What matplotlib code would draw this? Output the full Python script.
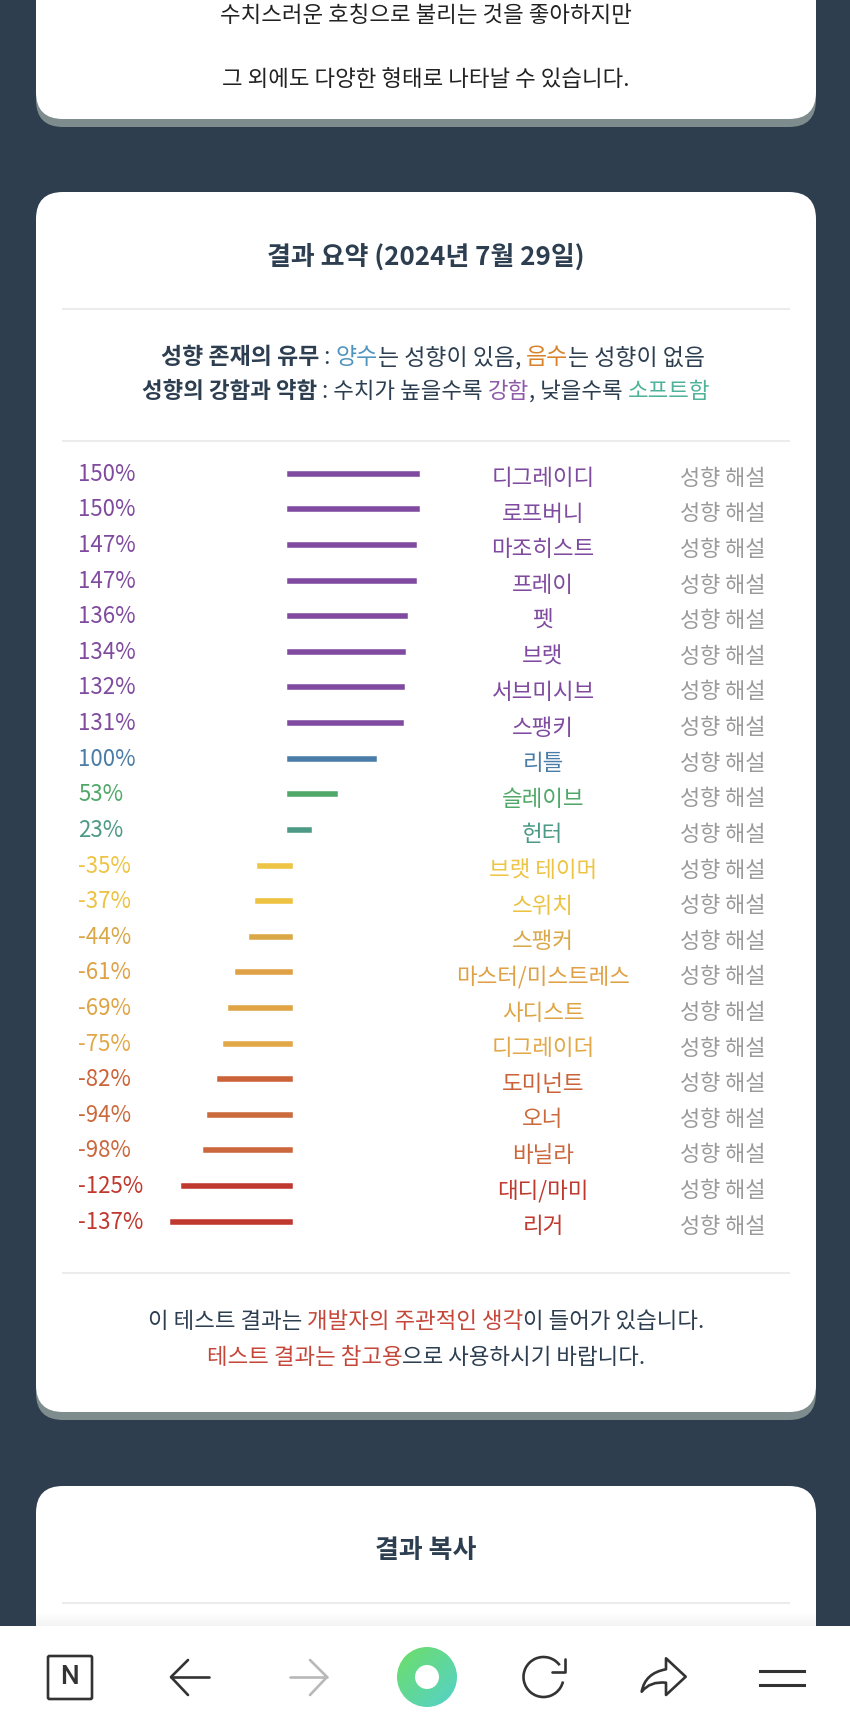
import numpy as np
import matplotlib
matplotlib.use('Agg')
import matplotlib.pyplot as plt
from matplotlib.patches import FancyBboxPatch, Rectangle, PathPatch, Arc, Circle
from matplotlib.path import Path

plt.rcParams['font.family'] = ['Noto Sans CJK KR', 'DejaVu Sans']

names = ['디그레이디', '로프버니', '마조히스트', '프레이', '펫', '브랫', '서브미시브', '스팽키',
         '리틀', '슬레이브', '헌터', '브랫 테이머', '스위치', '스팽커', '마스터/미스트레스',
         '사디스트', '디그레이더', '도미넌트', '오너', '바닐라', '대디/마미', '리거']
values = [150, 150, 147, 147, 136, 134, 132, 131, 100, 53, 23,
          -35, -37, -44, -61, -69, -75, -82, -94, -98, -125, -137]
colors = ['#7f4a9f'] * 8 + ['#4a7ca8', '#50a868', '#4c9a85',
          '#eec445', '#ecc240', '#dba848', '#e0a045', '#dfa545', '#e2a848',
          '#cc6238', '#cb6a3c', '#cb673c', '#c0392f', '#c0392f']
link_label = '성향 해설'

NAVY = '#2f3e4f'
W, H = 850, 1730
fig = plt.figure(figsize=(W / 100, H / 100), dpi=100, facecolor=NAVY)
page = fig.add_axes([0, 0, 1, 1], zorder=1)
page.set_xlim(0, W); page.set_ylim(H, 0); page.axis('off')
page.patch.set_alpha(0)


def card(top, bottom, shadow=True):
    if shadow:
        page.add_patch(FancyBboxPatch((36, top + 8), 780, bottom - top, boxstyle='round,pad=0,rounding_size=27',
                                      fc='#7f8c8d', ec='none', zorder=1))
    page.add_patch(FancyBboxPatch((36, top), 780, bottom - top, boxstyle='round,pad=0,rounding_size=27',
                                  fc='white', ec='none', zorder=2))


card(-80, 119)
card(192, 1412)
card(1486, 1800, shadow=False)

for y in (309, 441, 1273, 1603):
    page.plot([62, 790], [y, y], color='#ececec', lw=1.5, zorder=3, solid_capstyle='butt')

rend = fig.canvas.get_renderer()


def rich(cx, y, parts, size):
    """parts: (string, colour, weight); laid out in sequence, centred on cx"""
    items, widths = [], []
    for s, c, w in parts:
        t = page.text(0, y, s, color=c, fontweight=w, fontsize=size, va='center', ha='left', zorder=5)
        items.append(t)
        widths.append(t.get_window_extent(rend).width)
    x = cx - sum(widths) / 2
    for t, wd in zip(items, widths):
        t.set_x(x)
        x += wd


DARK = '#2c3e50'
RED = '#c5473a'
rich(426, 16, [('수치스러운 호칭으로 불리는 것을 좋아하지만', '#222222', 'normal')], 16.1)
rich(426, 80, [('그 외에도 다양한 형태로 나타날 수 있습니다.', '#222222', 'normal')], 16.1)
rich(426, 257, [('결과 요약 (2024년 7월 29일)', DARK, 'bold')], 18.7)
rich(433, 358, [('성향 존재의 유무', DARK, 'bold'), (' : ', DARK, 'normal'), ('양수', '#4f93bf', 'normal'),
                ('는 성향이 있음, ', DARK, 'normal'), ('음수', '#d9822b', 'normal'), ('는 성향이 없음', DARK, 'normal')], 16.5)
rich(426, 391, [('성향의 강함과 약함', DARK, 'bold'), (' : 수치가 높을수록 ', DARK, 'normal'), ('강함', '#8e5aa8', 'normal'),
                (', 낮을수록 ', DARK, 'normal'), ('소프트함', '#4fb39c', 'normal')], 16.1)
rich(426, 1322, [('이 테스트 결과는 ', DARK, 'normal'), ('개발자의 주관적인 생각', RED, 'normal'),
                 ('이 들어가 있습니다.', DARK, 'normal')], 16.1)
rich(426, 1357, [('테스트 결과는 참고용', RED, 'normal'), ('으로 사용하시기 바랍니다.', DARK, 'normal')], 16.1)
rich(426, 1550, [('결과 복사', DARK, 'bold')], 18.7)

# chart: x in percent, y in row index
row0, drow = 473.7, 35.62
zero_px, px_per = 289.6, 0.848
n = len(values)
top_px = row0 - drow / 2
bot_px = row0 + drow * (n - 0.5)
xmin, xmax = -200, 200
left_px = zero_px + xmin * px_per
right_px = zero_px + xmax * px_per
ax = fig.add_axes([left_px / W, 1 - bot_px / H, (right_px - left_px) / W, (bot_px - top_px) / H], zorder=2)
ax.set_xlim(xmin, xmax); ax.set_ylim(n - 0.5, -0.5); ax.axis('off'); ax.patch.set_alpha(0)
rows = np.arange(n)
ax.hlines(rows, 0, values, colors=colors, linewidth=4.0, capstyle='projecting')

for i, (nm, v, c) in enumerate(zip(names, values, colors)):
    y = row0 + i * drow
    page.text(78, y + 0.5, f'{v}%', color=c, fontsize=16, va='center', ha='left', zorder=5)
    page.text(543, y + 5, nm, color=c, fontsize=16.2, va='center', ha='center', zorder=5)
    page.text(722.5, y + 5, link_label, color='#9a9a9a', fontsize=15.8, va='center', ha='center', zorder=5)

# browser toolbar
shade = np.linspace(1.0, 0.955, 12)[:, None, None] * np.array([[[1.0, 1.0, 1.0]]])
page.imshow(shade, extent=(36, 816, 1626, 1612), aspect='auto', zorder=4)
page.add_patch(Rectangle((0, 1626), W, 104, fc='white', ec='none', zorder=6))
ic = '#333333'
lw_ic = 1.9
page.add_patch(FancyBboxPatch((48, 1656), 44, 43, boxstyle='round,pad=0,rounding_size=1.5', fc='none', ec=ic, lw=lw_ic, zorder=7))
page.text(70, 1677.5, 'N', color=ic, fontsize=19, fontweight='medium', ha='center', va='center', zorder=7,
          family=['Roboto', 'DejaVu Sans'])


def arrow(x_tip, x_tail, col):
    s = 1 if x_tail > x_tip else -1
    page.plot([x_tip, x_tail], [1677, 1677], color=col, lw=lw_ic, zorder=7, solid_capstyle='round')
    page.plot([x_tip + s * 17, x_tip, x_tip + s * 17], [1660, 1677, 1695], color=col, lw=lw_ic, zorder=7,
              solid_capstyle='round', solid_joinstyle='round')


arrow(171, 209, ic)
arrow(327, 290, '#b8b8b8')

gx, gy = np.meshgrid(np.linspace(0, 1, 60), np.linspace(0, 1, 60))
t = (gx + gy) / 2
c1, c2 = np.array([0.43, 0.87, 0.40]), np.array([0.33, 0.82, 0.80])
img = page.imshow(c1 + (c2 - c1) * t[..., None], extent=(397, 457, 1707, 1647), aspect='auto', zorder=7)
img.set_clip_path(Circle((427, 1677), 30, transform=page.transData))
page.add_patch(Circle((427, 1677), 12, fc='white', ec='none', zorder=8))

page.add_patch(Arc((543.5, 1677), 40, 40, theta1=13, theta2=324, color=ic, lw=lw_ic, zorder=7))
page.plot([552, 565, 565], [1672.3, 1672.3, 1659.3], color=ic, lw=lw_ic, zorder=7,
          solid_capstyle='round', solid_joinstyle='round')

share = Path([(666, 1658.3), (685.7, 1676.7), (666, 1695), (666, 1682.7), (650, 1681), (641.7, 1691.7),
              (645, 1673), (666, 1669.3), (666, 1658.3)],
             [Path.MOVETO, Path.LINETO, Path.LINETO, Path.LINETO, Path.CURVE3, Path.CURVE3,
              Path.CURVE3, Path.CURVE3, Path.CLOSEPOLY])
page.add_patch(PathPatch(share, fc='none', ec=ic, lw=lw_ic, joinstyle='round', zorder=7))
for y in (1671, 1685):
    page.plot([760, 804], [y, y], color=ic, lw=2.2, zorder=7)

page.set_xlim(0, W); page.set_ylim(H, 0)
fig.savefig('out.png', dpi=100, facecolor=NAVY)
